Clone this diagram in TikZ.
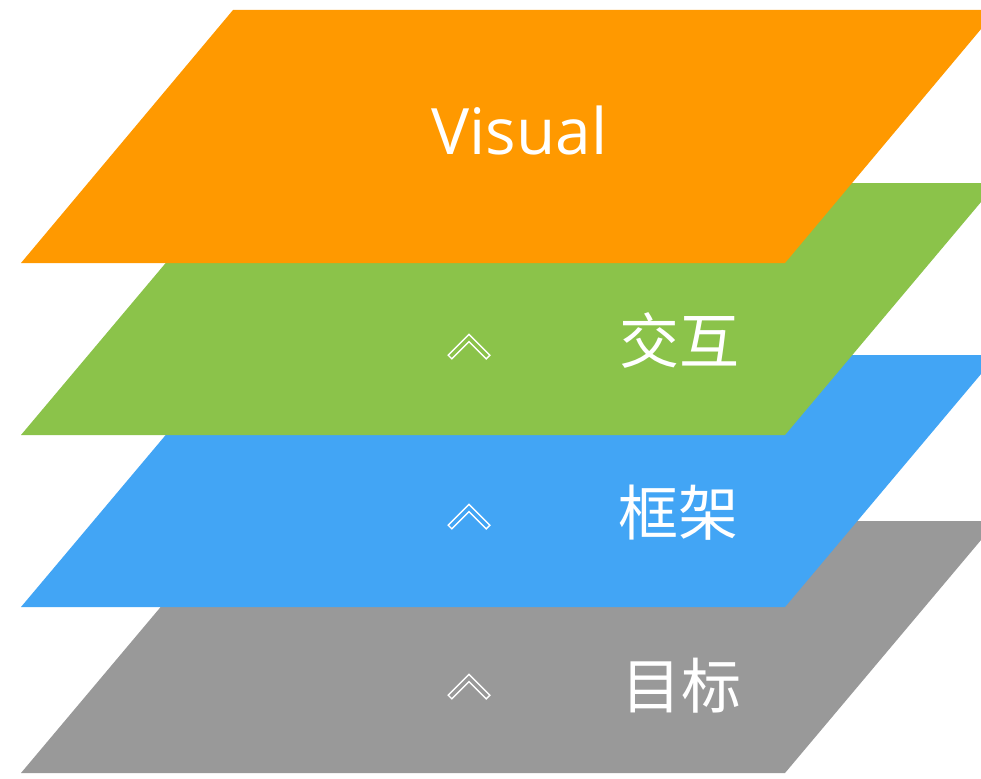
\documentclass[tikz,border=0pt]{standalone}
\usepackage{fontspec}
\setmainfont{Open Sans}
\newfontfamily\cjk{Noto Sans CJK SC}
\definecolor{cOrange}{RGB}{255,153,0}
\definecolor{cGreen}{RGB}{139,195,74}
\definecolor{cBlue}{RGB}{66,165,245}
\definecolor{cGray}{RGB}{153,153,153}
\begin{document}
\begin{tikzpicture}[x=1pt,y=-1pt,
  layer/.style={fill=#1,draw=none},
  chev/.style={draw=white,line width=1.4pt,fill=#1,line join=miter},
  lbl/.style={text=white,inner sep=0pt,font=\cjk\fontsize{60}{60}\selectfont}]
\useasboundingbox (0,0) rectangle (981,778);
\fill[white] (0,0) rectangle (981,778);
% layers (bottom first)
\path[layer=cGray]   (233,521) -- (997,521) -- (785,773) -- (21,773) -- cycle;
\path[layer=cBlue]   (233,355) -- (997,355) -- (785,607) -- (21,607) -- cycle;
\path[layer=cGreen]  (233,183) -- (997,183) -- (785,435) -- (21,435) -- cycle;
\path[layer=cOrange] (233,10)  -- (997,10)  -- (785,263) -- (21,263) -- cycle;
% texts
\node[text=white,inner sep=0pt,anchor=base,font=\fontsize{64}{64}\selectfont] (visual) at (519.5,155) {Visual};
\node[lbl] (jiaohu) at (679,340) {交互};
\node[lbl] (kuangjia) at (678,513) {框架};
\node[lbl] (mubiao) at (681,686) {目标};
% chevrons
\path[chev=cGreen] (448.2,355.2) -- (469,334.4) -- (489.8,355.2) -- (486.2,358.8) -- (469,341.6) -- (451.8,358.8) -- cycle;
\path[chev=cBlue] (448.2,525.2) -- (469,504.4) -- (489.8,525.2) -- (486.2,528.8) -- (469,511.6) -- (451.8,528.8) -- cycle;
\path[chev=cGray] (448.2,695.2) -- (469,674.4) -- (489.8,695.2) -- (486.2,698.8) -- (469,681.6) -- (451.8,698.8) -- cycle;
\end{tikzpicture}
\end{document}
